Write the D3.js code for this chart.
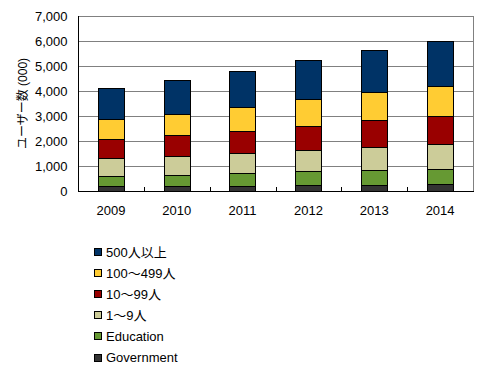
<!DOCTYPE html>
<html><head><meta charset="utf-8">
<script src="https://cdn.jsdelivr.net/npm/d3@7"></script>
<style>
body{margin:0;background:#fff;}
text{font-family:"Liberation Sans",Arial,"Noto Sans CJK JP",sans-serif;fill:#000;}
</style></head>
<body><svg id="c" width="480" height="372"></svg>
<script>
const years = ["2009","2010","2011","2012","2013","2014"];
const seriesNames = ["Government","Education","1～9人","10～99人","100～499人","500人以上"];
const government = [190,190,190,230,230,270];
const education = [400,440,520,560,600,600];
const s1to9 = [720,760,800,840,920,1000];
const s10to99 = [760,840,880,960,1080,1120];
const s100to499 = [800,860,960,1080,1120,1200];
const s500plus = [1240,1340,1440,1560,1680,1800];
const yTicks = [0,1000,2000,3000,4000,5000,6000,7000];
const colors = ["#333333","#669933","#CCCC99","#990000","#FFCC33","#003366"];

const seriesVals = [government,education,s1to9,s10to99,s100to499,s500plus];
const table = years.map((y,i)=>{const o={year:y};seriesNames.forEach((n,k)=>o[n]=seriesVals[k][i]);return o;});
const stacked = d3.stack().keys(seriesNames)(table);

const svg = d3.select("#c");
const L=78,R=473,T=16,B=191;
const x = d3.scaleBand().domain(years).range([L,R]).paddingInner(0.6).paddingOuter(0.3);
const y = d3.scaleLinear().domain([0,7000]).range([B,T]);

// gridlines
svg.append("g").selectAll("line").data(yTicks.filter(d=>d>0)).join("line")
  .attr("x1",L).attr("x2",R).attr("y1",d=>Math.round(y(d))+0.5).attr("y2",d=>Math.round(y(d))+0.5)
  .attr("stroke","#808080").attr("stroke-width",1);
// right border
svg.append("line").attr("x1",R+0.5).attr("x2",R+0.5).attr("y1",T).attr("y2",B)
  .attr("stroke","#808080");

// bars
svg.append("g").selectAll("g").data(stacked).join("g")
  .attr("fill",(d,i)=>colors[i])
  .selectAll("rect").data(d=>d).join("rect")
  .attr("x",d=>Math.round(x(d.data.year))+0.5)
  .attr("width",Math.round(x.bandwidth()))
  .attr("y",d=>Math.round(y(d[1]))+0.5)
  .attr("height",d=>Math.round(y(d[0]))-Math.round(y(d[1])))
  .attr("stroke","#000").attr("stroke-width",1);

// y axis
const ya = svg.append("g").attr("transform",`translate(${L+0.5},0)`)
  .call(d3.axisLeft(y).tickValues(yTicks).tickSize(0).tickPadding(11).tickFormat(d3.format(",")));
ya.select(".domain").attr("stroke","#000").attr("d",`M0,${T}V${B+0.5}`);
ya.selectAll("text").attr("font-size",13).attr("font-family",null).attr("dy","0.36em");

// x axis
const xa = svg.append("g").attr("transform",`translate(0,${B+0.5})`)
  .call(d3.axisBottom(x).tickSize(0).tickPadding(14));
xa.select(".domain").attr("stroke","#000").attr("d",`M${L},0H${R+1}`);
xa.selectAll("text").attr("font-size",13).attr("font-family",null);
// category separator ticks (inward)
const seps = years.slice(1).map(yr=>x(yr)-x.step()*x.paddingInner()/2);
svg.append("g").selectAll("line").data(seps).join("line")
  .attr("x1",d=>Math.round(d)+0.5).attr("x2",d=>Math.round(d)+0.5)
  .attr("y1",B-4).attr("y2",B).attr("stroke","#000");

// y title
svg.append("text").attr("transform",`translate(27,103.5) rotate(-90)`)
  .attr("text-anchor","middle").attr("font-size",12).text("ユーザー数 (000)");

// legend
const leg = svg.append("g");
const legOrder = seriesNames.slice().reverse();
legOrder.forEach((n,i)=>{
  const cy = 252 + i*21.1;
  const k = seriesNames.indexOf(n);
  leg.append("rect").attr("x",94.5).attr("y",Math.round(cy-4)+0.5).attr("width",7).attr("height",7)
    .attr("fill",colors[k]).attr("stroke","#000");
  leg.append("text").attr("x",106).attr("y",cy).attr("dy","0.36em").attr("font-size",13).text(n);
});
</script></body></html>
